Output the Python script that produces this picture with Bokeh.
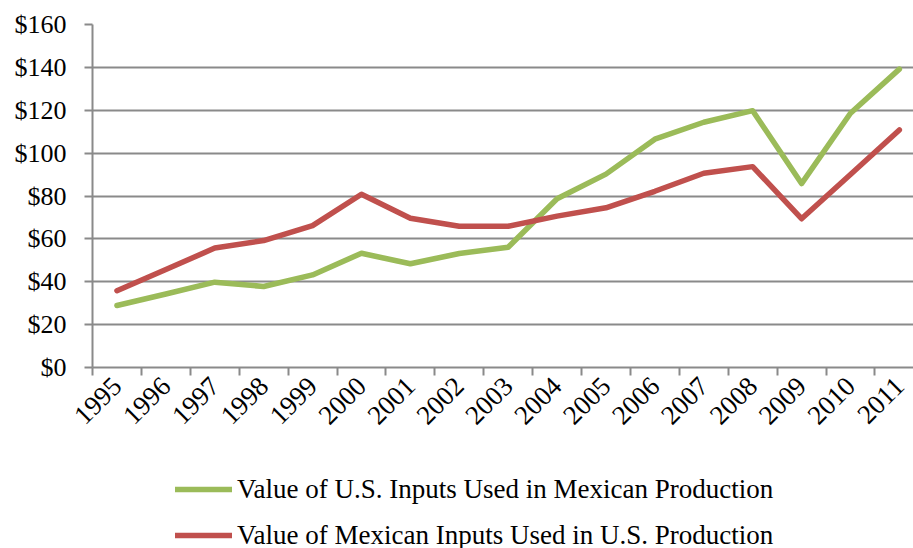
from bokeh.plotting import figure
from bokeh.layouts import column
from bokeh.models import (Range1d, FixedTicker, NumeralTickFormatter, Legend,
                          LegendItem, ColumnDataSource)
from bokeh.embed import file_html
from bokeh.resources import INLINE
import math

years = [1995, 1996, 1997, 1998, 1999, 2000, 2001, 2002, 2003, 2004, 2005,
         2006, 2007, 2008, 2009, 2010, 2011]
us_inputs_in_mexico = [28.9, 34.3, 39.8, 37.8, 43.2, 53.3, 48.4, 53.2, 56.1,
                       78.7, 90.2, 106.5, 114.4, 119.8, 85.8, 118.6, 139.2]
mexican_inputs_in_us = [35.8, 45.7, 55.7, 59.2, 66.2, 80.8, 69.6, 65.9, 65.9,
                        70.6, 74.5, 82.2, 90.6, 93.7, 69.4, 90.0, 110.8]
y_ticks = [0, 20, 40, 60, 80, 100, 120, 140, 160]
series_names = ["Value of U.S. Inputs Used in Mexican Production",
                "Value of Mexican Inputs Used in U.S. Production"]

GREEN = "#9BBB59"
RED = "#C0504D"
GRID = "#8a8a8a"
SERIF = "Liberation Serif"
LINE_W = 5.5

idx = list(range(len(years)))
band_px = 48.9
frame_w = 913 - 92

src = ColumnDataSource(dict(x=idx, us=us_inputs_in_mexico, mx=mexican_inputs_in_us))

p = figure(width=913, height=447, output_backend="svg", toolbar_location=None,
           x_range=Range1d(-0.5, -0.5 + frame_w / band_px),
           y_range=Range1d(0, 160),
           min_border_left=92, min_border_right=0, min_border_top=24,
           min_border_bottom=80)
p.outline_line_color = None
p.background_fill_color = "white"
p.border_fill_color = "white"

# y axis
p.yaxis.ticker = FixedTicker(ticks=y_ticks)
p.yaxis.formatter = NumeralTickFormatter(format="$0")
p.yaxis.axis_line_color = GRID
p.yaxis.axis_line_width = 2
p.yaxis.major_tick_line_color = GRID
p.yaxis.major_tick_line_width = 2
p.yaxis.major_tick_out = 8
p.yaxis.major_tick_in = 0
p.yaxis.minor_tick_line_color = None
p.yaxis.major_label_standoff = 18
p.yaxis.major_label_text_font = SERIF
p.yaxis.major_label_text_font_size = "26px"
p.yaxis.major_label_text_color = "black"

# x axis
p.xaxis.ticker = FixedTicker(ticks=idx, minor_ticks=[i - 0.5 for i in range(len(years) + 1)])
p.xaxis.major_label_overrides = {i: str(y) for i, y in zip(idx, years)}
p.xaxis.axis_line_color = GRID
p.xaxis.axis_line_width = 2
p.xaxis.major_tick_line_color = None
p.xaxis.major_tick_out = 0
p.xaxis.major_tick_in = 0
p.xaxis.minor_tick_line_color = GRID
p.xaxis.minor_tick_line_width = 2
p.xaxis.minor_tick_out = 8
p.xaxis.minor_tick_in = 0
p.xaxis.major_label_orientation = math.pi / 4
p.xaxis.major_label_standoff = 6
p.xaxis.major_label_text_font = SERIF
p.xaxis.major_label_text_font_size = "27px"
p.xaxis.major_label_text_color = "black"

p.xgrid.grid_line_color = None
p.ygrid.ticker = FixedTicker(ticks=y_ticks)
p.ygrid.grid_line_color = GRID
p.ygrid.grid_line_width = 2

p.line("x", "us", source=src, line_color=GREEN, line_width=LINE_W,
       line_join="round", line_cap="round")
p.line("x", "mx", source=src, line_color=RED, line_width=LINE_W,
       line_join="round", line_cap="round")

# legend strip below the chart (its own lines sit outside its visible range)
lg = figure(width=913, height=101, output_backend="svg", toolbar_location=None,
            x_axis_location=None, y_axis_location=None,
            x_range=Range1d(-0.5, 16.5), y_range=Range1d(-20, -10),
            min_border_left=92, min_border_right=0, min_border_top=0,
            min_border_bottom=0)
lg.outline_line_color = None
lg.xgrid.grid_line_color = None
lg.ygrid.grid_line_color = None
lg.background_fill_color = "white"
lg.border_fill_color = "white"
g = lg.line("x", "us", source=src, line_color=GREEN, line_width=LINE_W, line_cap="round")
r = lg.line("x", "mx", source=src, line_color=RED, line_width=LINE_W, line_cap="round")

legend = Legend(items=[LegendItem(label=series_names[0], renderers=[g]),
                       LegendItem(label=series_names[1], renderers=[r])],
                location=(83, -5), orientation="vertical")
legend.border_line_color = None
legend.background_fill_alpha = 0
legend.padding = 0
legend.margin = 0
legend.spacing = 10
legend.glyph_width = 57
legend.glyph_height = 36
legend.label_height = 36
legend.label_standoff = 5
legend.label_text_font = SERIF
legend.label_text_font_size = "27px"
legend.label_text_color = "black"
lg.add_layout(legend, "center")

layout = column(p, lg, spacing=0)
open("out.html", "w").write(file_html(layout, INLINE))
